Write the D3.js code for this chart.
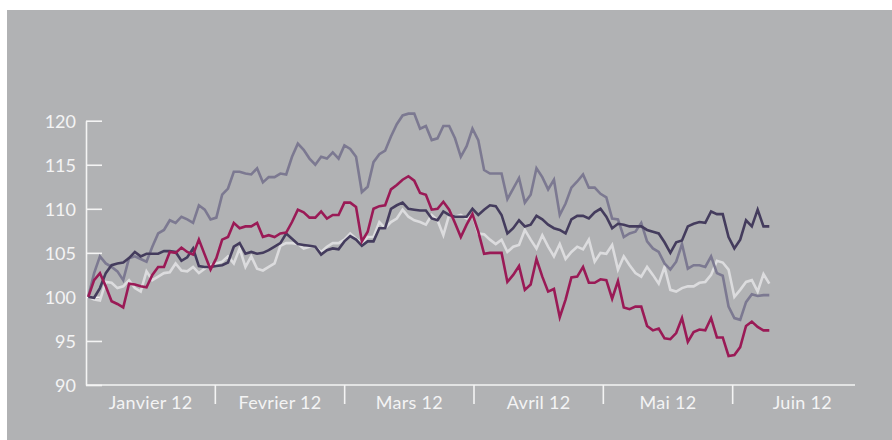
<!DOCTYPE html>
<html>
<head>
<meta charset="utf-8">
<script src="https://cdn.jsdelivr.net/npm/d3@7"></script>
<style>
  body { margin: 0; background: #fff; }
  .axis text { font-family: Lato, sans-serif; font-size: 18px; fill: #f4f4f4; }
  .xaxis text { letter-spacing: 0.3px; }
</style>
</head>
<body>
<div class="render"></div>
<script>
'use strict';

// tick labels / categories
var months = ['Janvier 12', 'Fevrier 12', 'Mars 12', 'Avril 12', 'Mai 12', 'Juin 12'];
var yTicks = [90, 95, 100, 105, 110, 115, 120];

// series values, one per trading day
var lightSeries = [100.0, 99.7, 99.6, 101.7, 101.6, 101.0, 101.2, 101.9, 101.0, 100.6,
   102.9, 101.9, 102.3, 102.7, 102.8, 103.8, 103.0, 102.9, 103.4, 102.7,
   103.2, 103.6, 103.8, 104.0, 104.6, 103.8, 105.5, 103.4, 104.6, 103.2,
   103.0, 103.4, 103.8, 105.8, 106.1, 106.1, 106.0, 105.5, 105.7, 105.7,
   105.1, 105.7, 106.1, 106.1, 106.5, 107.2, 106.6, 106.1, 106.8, 106.8,
   108.5, 107.8, 108.5, 108.9, 109.9, 109.1, 108.7, 108.5, 108.2, 109.3,
   108.7, 107.0, 109.3, 109.1, 109.3, 108.9, 109.3, 107.2, 107.1, 106.5,
   106.0, 106.5, 105.1, 105.7, 105.9, 107.6, 106.5, 105.5, 107.0, 105.7,
   104.6, 106.0, 104.3, 105.1, 105.7, 105.4, 106.5, 104.0, 105.0, 104.9,
   105.9, 103.1, 104.6, 103.6, 102.7, 102.3, 103.4, 102.5, 101.5, 103.4,
   100.8, 100.6, 101.0, 101.2, 101.2, 101.6, 101.7, 102.5, 104.1, 103.9,
   103.1, 100.0, 100.8, 101.7, 101.9, 100.6, 102.6, 101.5];

var midSeries = [100.0, 102.7, 104.6, 103.8, 103.4, 102.9, 101.9, 104.4, 104.6, 104.3,
   104.0, 105.7, 107.2, 107.6, 108.7, 108.4, 109.1, 108.8, 108.4, 110.4,
   109.9, 108.8, 109.0, 111.6, 112.3, 114.2, 114.2, 114.0, 113.9, 114.6,
   113.0, 113.6, 113.6, 114.0, 113.9, 115.9, 117.4, 116.7, 115.7, 115.0,
   115.9, 115.7, 116.4, 115.7, 117.2, 116.8, 115.9, 111.9, 112.5, 115.3,
   116.2, 116.6, 118.2, 119.6, 120.6, 120.8, 120.8, 119.1, 119.4, 117.8,
   118.0, 119.4, 119.4, 118.0, 115.9, 117.1, 119.1, 117.8, 114.4, 114.0,
   114.0, 114.0, 111.1, 112.3, 113.5, 110.7, 111.6, 114.6, 113.6, 112.2,
   113.3, 109.3, 110.6, 112.4, 113.1, 113.9, 112.4, 112.4, 111.7, 111.3,
   108.9, 108.8, 106.8, 107.2, 107.4, 108.4, 106.3, 105.5, 105.1, 103.8,
   103.1, 104.0, 106.0, 103.2, 103.6, 103.6, 103.4, 104.6, 102.7, 102.4,
   98.9, 97.6, 97.4, 99.4, 100.3, 100.1, 100.2, 100.2];

var navySeries = [100.0, 99.9, 101.0, 102.7, 103.6, 103.8, 103.9, 104.4, 105.1, 104.6,
   104.9, 104.9, 104.9, 105.2, 105.2, 105.1, 104.1, 104.5, 105.5, 103.5,
   103.4, 103.4, 103.5, 103.6, 103.9, 105.7, 106.1, 104.9, 105.1, 104.9,
   105.0, 105.3, 105.7, 106.1, 107.2, 106.6, 106.0, 105.9, 105.8, 105.7,
   104.8, 105.3, 105.5, 105.4, 106.3, 106.9, 106.5, 105.8, 106.3, 106.3,
   107.8, 107.8, 110.0, 110.4, 110.7, 110.0, 109.9, 109.8, 109.8, 108.9,
   108.7, 109.7, 109.3, 109.1, 109.1, 109.1, 110.0, 109.3, 109.9, 110.4,
   110.3, 109.3, 107.2, 107.8, 108.7, 108.0, 108.2, 109.2, 108.8, 108.2,
   107.8, 107.6, 107.2, 108.8, 109.2, 109.2, 108.9, 109.6, 110.0, 109.1,
   107.8, 108.3, 108.2, 108.0, 108.0, 108.0, 107.6, 107.4, 107.2, 106.2,
   105.0, 106.2, 106.4, 108.0, 108.3, 108.5, 108.4, 109.7, 109.4, 109.4,
   106.8, 105.5, 106.5, 108.7, 108.0, 109.9, 108.0, 108.0];

var crimsonSeries = [100.0, 101.9, 102.7, 101.2, 99.5, 99.2, 98.8, 101.5, 101.4, 101.2,
   101.1, 102.5, 103.4, 103.4, 105.1, 105.0, 105.6, 105.1, 104.8, 106.5,
   104.8, 103.1, 104.4, 106.5, 106.8, 108.4, 107.8, 108.0, 108.0, 108.4,
   106.8, 107.0, 106.8, 107.2, 107.3, 108.5, 109.9, 109.6, 109.0, 109.0,
   109.7, 108.9, 109.3, 109.3, 110.7, 110.7, 110.2, 106.3, 107.4, 110.0,
   110.3, 110.4, 112.2, 112.7, 113.3, 113.7, 113.2, 111.8, 111.6, 109.9,
   110.0, 110.8, 109.9, 108.4, 106.8, 108.2, 109.4, 107.4, 104.9, 105.0,
   105.0, 105.0, 101.7, 102.5, 103.5, 100.8, 101.4, 104.3, 102.3, 100.6,
   100.9, 97.7, 99.7, 102.2, 102.3, 103.4, 101.6, 101.6, 102.0, 101.9,
   99.8, 101.8, 98.8, 98.6, 98.9, 98.9, 96.7, 96.2, 96.4, 95.3,
   95.2, 95.9, 97.6, 94.9, 96.0, 96.3, 96.2, 97.6, 95.4, 95.4,
   93.3, 93.4, 94.3, 96.7, 97.2, 96.6, 96.2, 96.2];

var seriesList = [lightSeries, midSeries, navySeries, crimsonSeries];
var seriesColors = ['#dcdcde', '#7c7991', '#443c5d', '#9a1a56'];

function draw() {
   var w = 892;
   var h = 440;

   var svg = d3.select('.render').append('svg').attr('width', w).attr('height', h)
      .style('display', 'block');

   svg.append('rect').attr('x', 7).attr('y', 10).attr('width', w - 7).attr('height', h - 10)
      .attr('fill', '#b1b2b4');

   var xScale = d3.scaleLinear().domain([0, lightSeries.length - 1]).range([88.3, 769.3]);
   var yScale = d3.scaleLinear().domain([90, 120]).range([385, 120.7]);
   var monthScale = d3.scaleBand().domain(months).range([86, 862]);

   // y axis
   var yAxis = d3.axisLeft(yScale).tickValues(yTicks).tickSizeInner(-16).tickSizeOuter(0)
      .tickPadding(10).tickFormat(d3.format('d'));
   var gy = svg.append('g').attr('class', 'axis').attr('transform', 'translate(86,0)').call(yAxis);
   gy.selectAll('line, path').attr('stroke', '#f4f4f4').attr('stroke-width', 1.6);
   gy.selectAll('text').attr('dy', '0.36em');

   // x axis (month bands)
   var xAxis = d3.axisBottom(monthScale).tickSize(0).tickPadding(8);
   var gx = svg.append('g').attr('class', 'axis xaxis').attr('transform', 'translate(0,385)').call(xAxis);
   gx.select('.domain').remove();
   gx.selectAll('text').attr('dy', '0.9em');
   gx.selectAll('.tick').filter(function (d, i) { return i === months.length - 1; })
      .select('text').attr('dx', 5);
   gx.append('line').attr('x1', 86).attr('x2', 855).attr('y1', 0).attr('y2', 0)
      .attr('stroke', '#f4f4f4').attr('stroke-width', 1.6);
   gx.selectAll('.sep').data(months.slice(1)).enter().append('line').attr('class', 'sep')
      .attr('x1', function (d) { return monthScale(d); })
      .attr('x2', function (d) { return monthScale(d); })
      .attr('y1', 0).attr('y2', 19)
      .attr('stroke', '#f4f4f4').attr('stroke-width', 1.6);

   var line = d3.line().x(function (d, i) { return xScale(i); }).y(function (d) { return yScale(d); });

   svg.selectAll('.series').data(seriesList).enter().append('path').attr('class', 'series')
      .attr('d', line)
      .attr('fill', 'none')
      .attr('stroke', function (d, i) { return seriesColors[i]; })
      .attr('stroke-width', 2.6)
      .attr('stroke-linejoin', 'miter');
}
draw();
</script>
</body>
</html>
